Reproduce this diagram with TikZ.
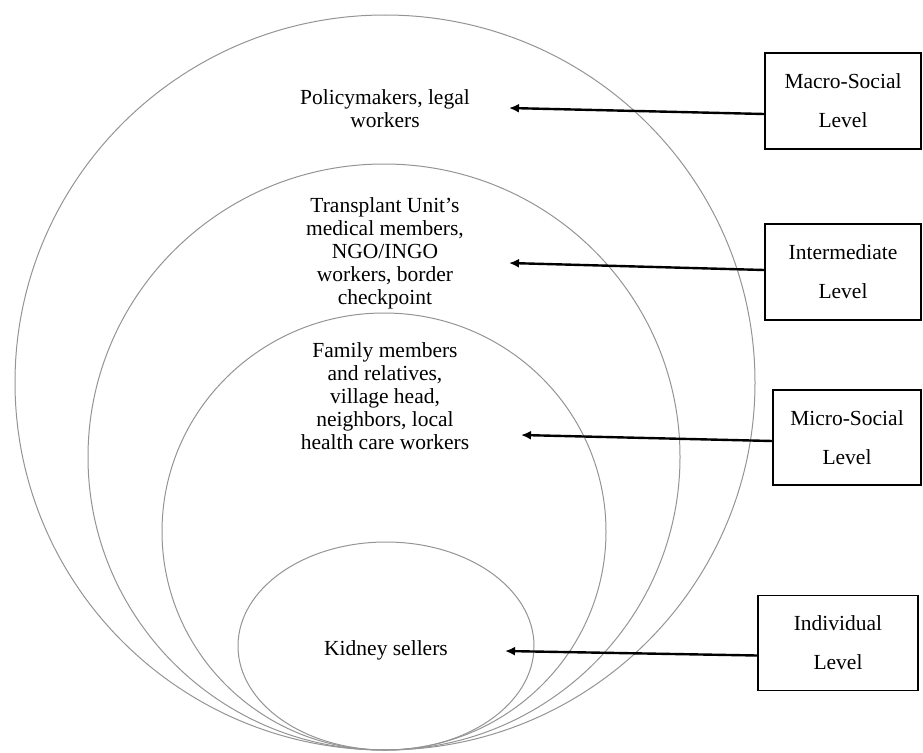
\documentclass[tikz,border=0pt]{standalone}
\usepackage{fontspec}
\setmainfont{Liberation Serif}
\usetikzlibrary{arrows.meta}
\begin{document}
\begin{tikzpicture}[x=1pt,y=-1pt]
\tikzstyle{ring}=[draw=black!42, line width=1pt]
\tikzstyle{who}=[align=center, inner sep=0pt, font=\fontsize{21.5}{23}\selectfont]
\tikzstyle{levelbox}=[draw, line width=1.9pt, minimum height=96pt, align=center, inner sep=0pt, font=\fontsize{21.5}{39}\selectfont]
\tikzstyle{pointer}=[-{Latex[length=10pt,width=9pt]}, line width=2.4pt]

\useasboundingbox (0,0) rectangle (923,752);

\draw[ring] (385,382.5) ellipse [x radius=370pt, y radius=367.5pt];
\draw[ring] (384,457) ellipse [x radius=296pt, y radius=293pt];
\draw[ring] (384,531.5) ellipse [x radius=222pt, y radius=218.5pt];
\draw[ring] (386,646) ellipse [x radius=148pt, y radius=104pt];

\node[who] (policy) at (385,109) {Policymakers, legal\\workers};
\node[who] (unit) at (385,253) {Transplant Unit’s\\medical members,\\NGO/INGO\\workers, border\\checkpoint};
\node[who] (family) at (385,396) {Family members\\and relatives,\\village head,\\neighbors, local\\health care workers};
\node[who] (sellers) at (386,650) {Kidney sellers};

\node[levelbox, minimum width=156pt] (macro) at (843,101) {Macro-Social\\Level};
\node[levelbox, minimum width=156pt] (inter) at (843,272) {Intermediate\\Level};
\node[levelbox, minimum width=148pt, minimum height=95pt] (micro) at (847,437.5) {Micro-Social\\Level};
\node[levelbox, minimum width=160pt, minimum height=95pt] (indiv) at (838,643) {Individual\\Level};

\coordinate (tip1) at (509,108);
\coordinate (tip2) at (509,263);
\coordinate (tip3) at (521,435);
\coordinate (tip4) at (505,651);

\draw[pointer] ([yshift=-13pt]macro.west) -- (tip1);
\draw[pointer] ([yshift=2pt]inter.west) -- (tip2);
\draw[pointer] ([yshift=-3.5pt]micro.west) -- (tip3);
\draw[pointer] ([yshift=-12.5pt]indiv.west) -- (tip4);
\end{tikzpicture}
\end{document}
